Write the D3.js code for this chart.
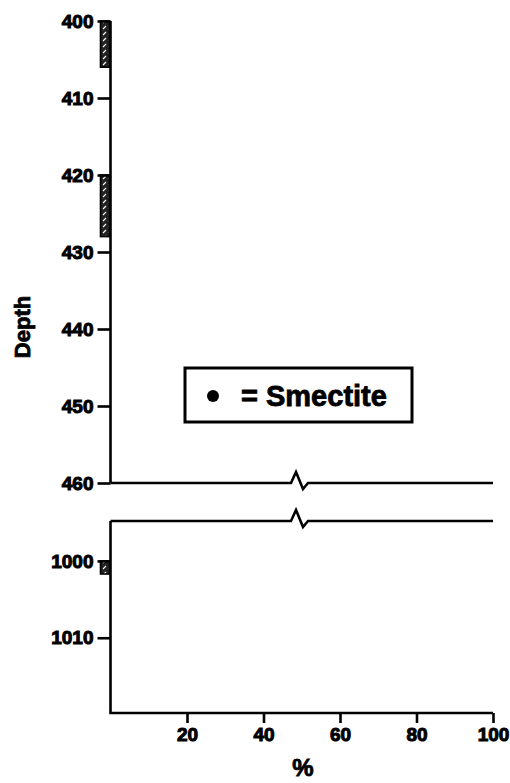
<!DOCTYPE html>
<html>
<head>
<meta charset="utf-8">
<script src="https://cdn.jsdelivr.net/npm/d3@7"></script>
<style>
  html, body { margin: 0; padding: 0; background: #fff; }
  svg { display: block; }
  text { font-family: "Liberation Sans", Arial, Helvetica, sans-serif; font-weight: bold; fill: #000; }
</style>
</head>
<body>
<script>
// Depth ticks for the two panels and the % ticks along the bottom
const upperDepthTicks = [400, 410, 420, 430, 440, 450, 460];
const lowerDepthTicks = [1000, 1010];
const percentTicks = [20, 40, 60, 80, 100];

// Sampled intervals (depth from / to), shown as hatched strips beside the axis
const intervalTop = [400, 420, 1000];
const intervalBottom = [406, 428, 1001.7];

const legendLabel = "= Smectite";

const W = 510, H = 783;
const svg = d3.select("body").append("svg").attr("width", W).attr("height", H);

const x = d3.scaleLinear().domain([0, 100]).range([110.5, 493]);
const yUp = d3.scaleLinear().domain([400, 460]).range([21, 483]);
const yLo = d3.scaleLinear().domain([994.8, 1019.8]).range([521, 713]);
const yFor = d => (d >= 900 ? yLo(d) : yUp(d));

const lw = 2.6;

// hatch pattern
const defs = svg.append("defs");
const pat = defs.append("pattern").attr("id", "hatch").attr("patternUnits", "userSpaceOnUse")
  .attr("width", 6).attr("height", 6);
pat.append("rect").attr("width", 6).attr("height", 6).attr("fill", "#222");
pat.append("path").attr("d", "M1,5 L4,2").attr("stroke", "#fff").attr("stroke-width", 1.1);

// Hatched strips left of the axis
const strips = d3.range(intervalTop.length).map(i => ({ a: intervalTop[i], b: intervalBottom[i] }));
svg.append("g").selectAll("rect").data(strips).join("rect")
  .attr("x", x(0) - 10)
  .attr("width", 9)
  .attr("y", d => yFor(d.a))
  .attr("height", d => yFor(d.b) - yFor(d.a))
  .attr("fill", "url(#hatch)")
  .attr("stroke", "#000")
  .attr("stroke-width", 1.6);

// Left axes
const leftUp = d3.axisLeft(yUp).tickValues(upperDepthTicks).tickSize(13).tickPadding(4).tickFormat(d3.format("d"));
const leftLo = d3.axisLeft(yLo).tickValues(lowerDepthTicks).tickSize(13).tickPadding(4).tickFormat(d3.format("d"));

function styleAxis(g) {
  g.select(".domain").remove();
  g.selectAll(".tick line").attr("stroke", "#000").attr("stroke-width", lw);
  g.selectAll(".tick text").style("font-size", "19px").attr("stroke", "#000").attr("stroke-width", 1);
}
svg.append("g").attr("transform", `translate(${x(0)},0)`).call(leftUp).call(styleAxis);
svg.append("g").attr("transform", `translate(${x(0)},0)`).call(leftLo).call(styleAxis);

// Bottom axis
const bottom = d3.axisBottom(x).tickValues(percentTicks).tickSize(10).tickPadding(5).tickFormat(d3.format("d"));
svg.append("g").attr("transform", `translate(0,${yLo(1019.8)})`).call(bottom).call(styleAxis);

// Frame lines with the break marks
const breakAt = 48.5;
function brokenLine(y0) {
  const bx = x(breakAt);
  return `M${x(0)},${y0} L${bx - 5},${y0} L${bx},${y0 - 11} L${bx + 7},${y0 + 6} L${bx + 12},${y0} L${x(100)},${y0}`;
}
const frame = svg.append("g").attr("fill", "none").attr("stroke", "#000").attr("stroke-width", lw)
  .attr("stroke-linejoin", "miter");
// upper panel: left axis and broken bottom line
frame.append("path").attr("d", `M${x(0)},${yUp(400)} L${x(0)},${yUp(460)}`);
frame.append("path").attr("d", brokenLine(yUp(460)));
// lower panel: broken top line, left axis, bottom axis
frame.append("path").attr("d", brokenLine(yLo(994.8)));
frame.append("path").attr("d", `M${x(0)},${yLo(994.8)} L${x(0)},${yLo(1019.8)} L${x(100)},${yLo(1019.8)}`);

// Axis titles
svg.append("text")
  .attr("transform", `translate(30,327) rotate(-90)`)
  .attr("text-anchor", "middle")
  .style("font-size", "22px")
  .attr("stroke", "#000").attr("stroke-width", 0.8)
  .text("Depth");
svg.append("text")
  .attr("x", 303).attr("y", 776)
  .attr("text-anchor", "middle")
  .style("font-size", "24px")
  .attr("stroke", "#000").attr("stroke-width", 0.8)
  .text("%");

// Legend
const lg = svg.append("g");
lg.append("rect").attr("x", 185).attr("y", 368).attr("width", 227).attr("height", 54)
  .attr("fill", "#fff").attr("stroke", "#000").attr("stroke-width", 3);
lg.append("circle").attr("cx", 213).attr("cy", 396).attr("r", 6).attr("fill", "#000");
lg.append("text").attr("x", 241).attr("y", 406)
  .style("font-size", "29px")
  .attr("stroke", "#000").attr("stroke-width", 0.8)
  .text(legendLabel);
</script>
</body>
</html>
